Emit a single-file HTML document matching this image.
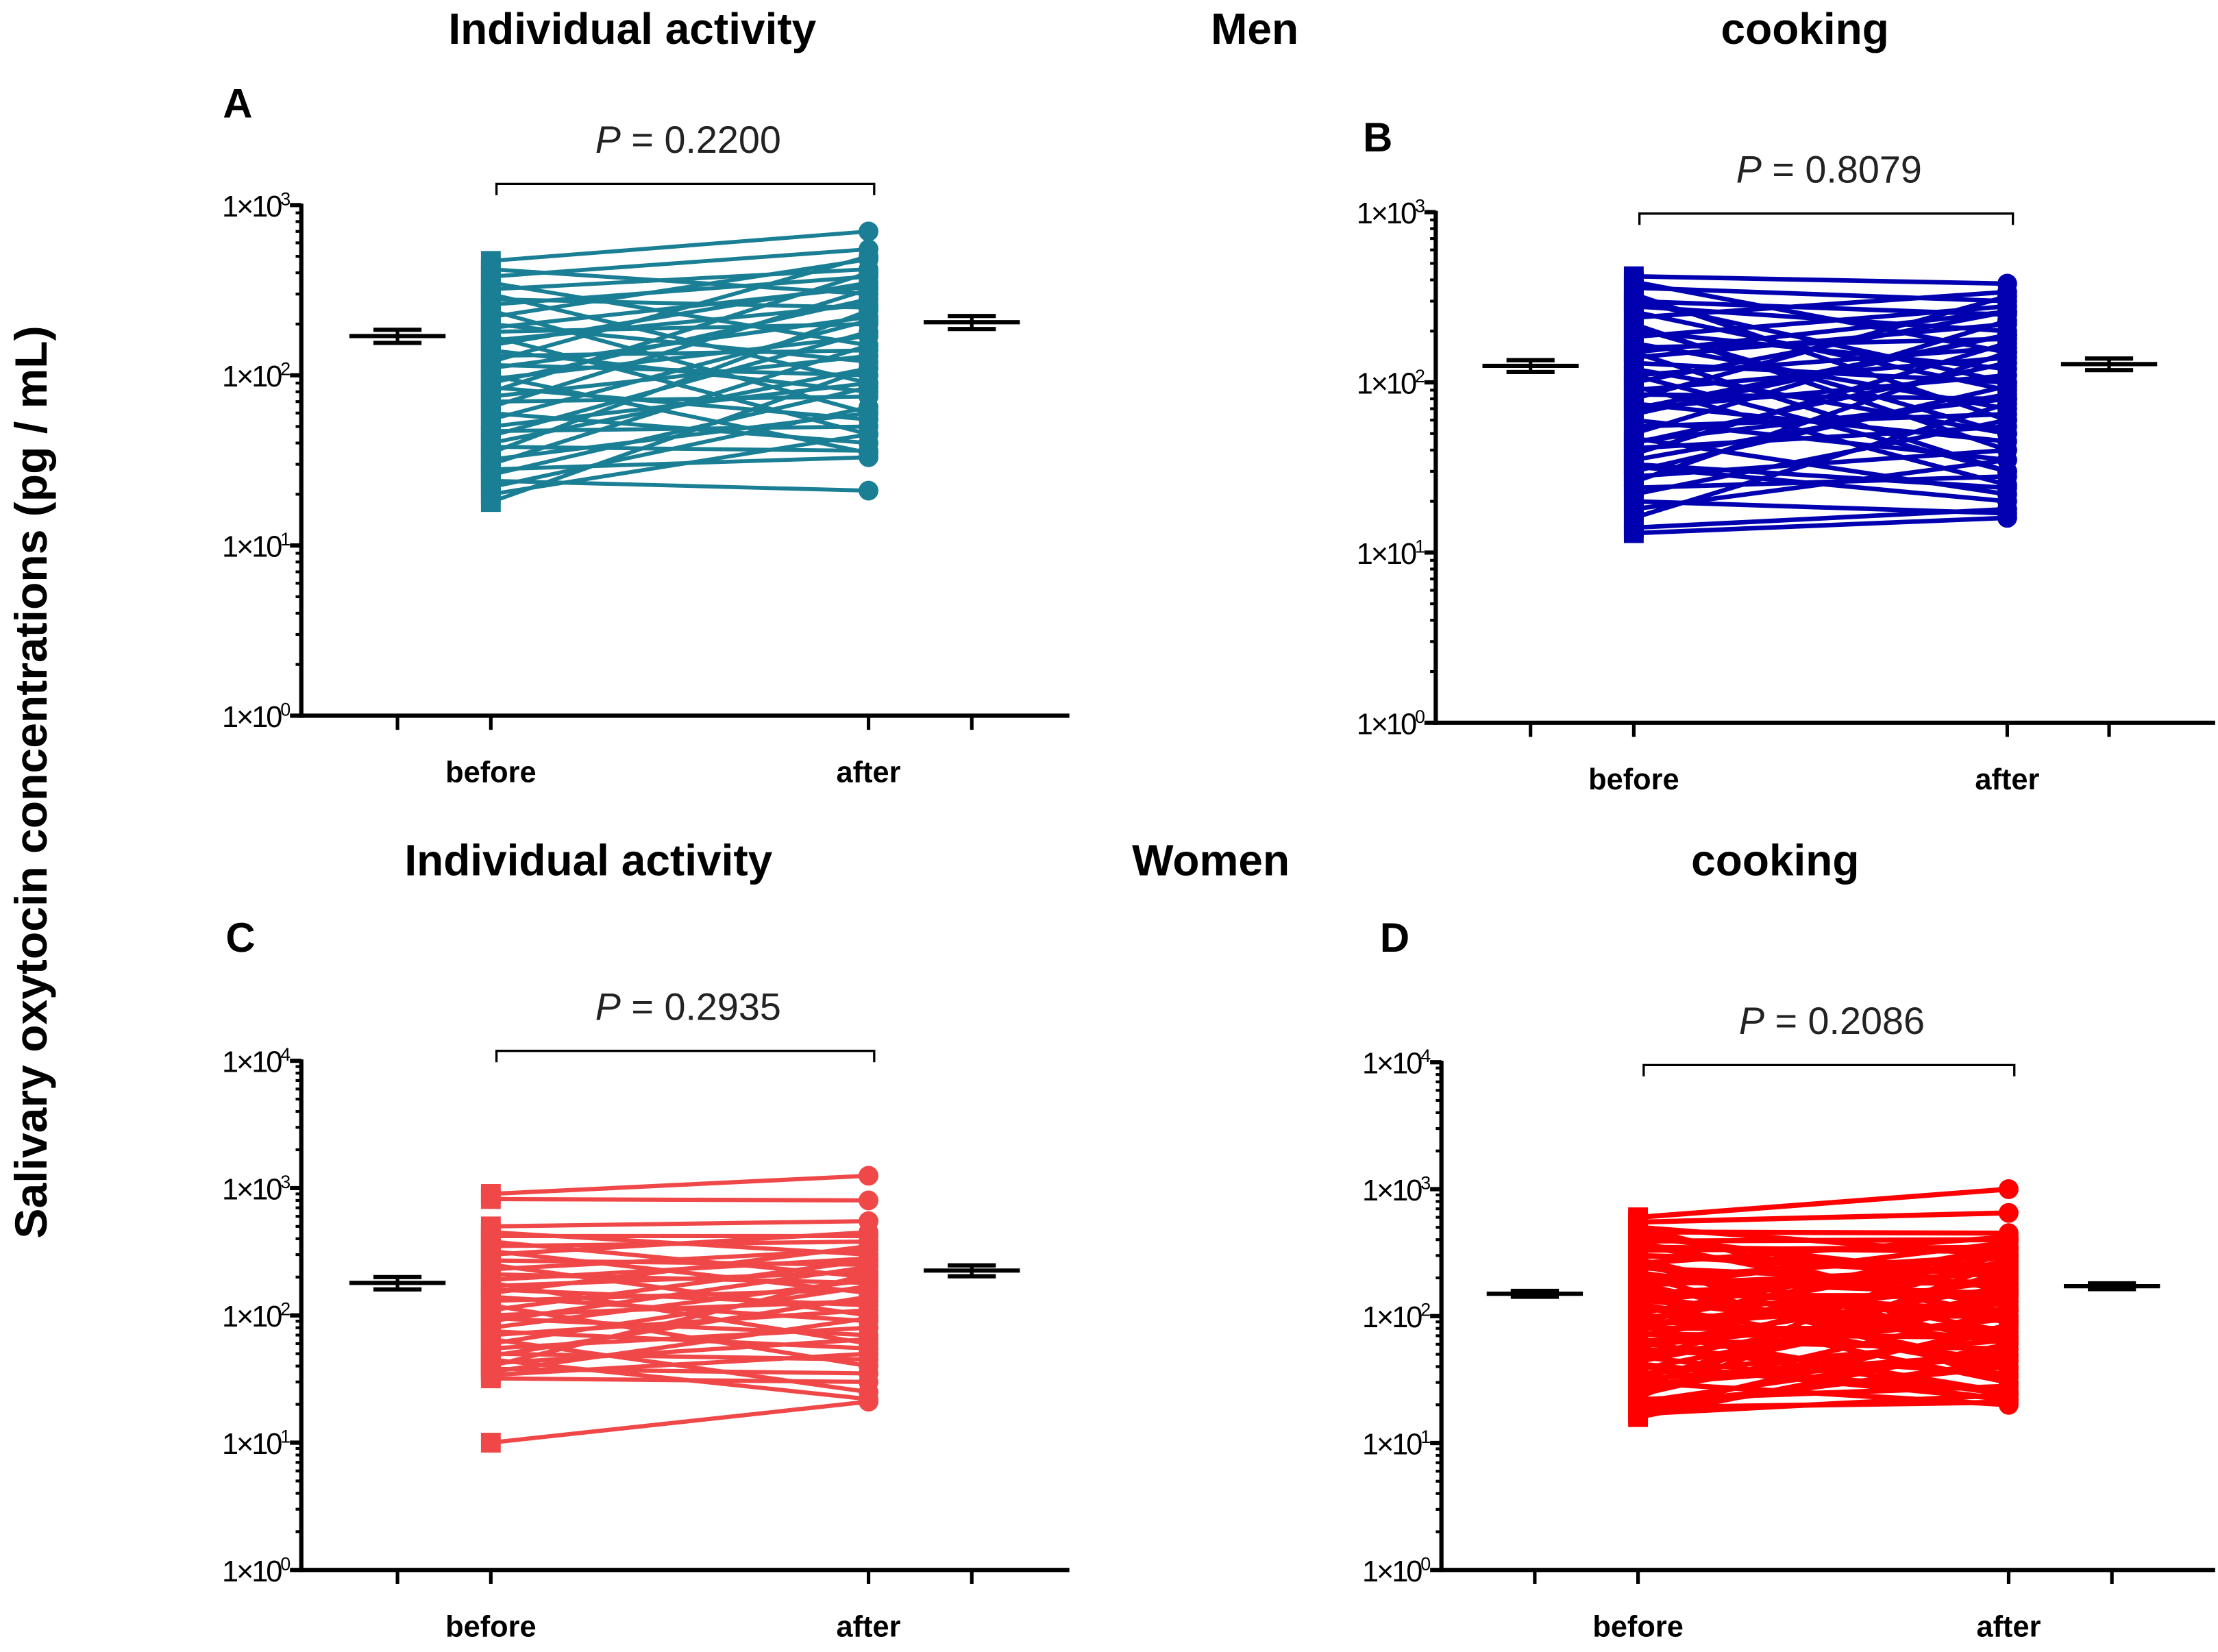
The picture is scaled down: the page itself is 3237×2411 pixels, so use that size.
<!DOCTYPE html>
<html><head><meta charset="utf-8"><title>Salivary oxytocin</title>
<style>html,body{margin:0;padding:0;background:#fff}svg{display:block}text{font-family:"Liberation Sans",sans-serif}</style></head>
<body>
<svg id="fig" xmlns="http://www.w3.org/2000/svg" width="3237" height="2411" viewBox="0 0 1568 1168" preserveAspectRatio="none">
<text x="447" y="31" font-size="31" font-weight="bold" text-anchor="middle">Individual activity</text>
<text x="887" y="31" font-size="31" font-weight="bold" text-anchor="middle">Men</text>
<text x="1276" y="31" font-size="31" font-weight="bold" text-anchor="middle">cooking</text>
<text x="416" y="619" font-size="31" font-weight="bold" text-anchor="middle">Individual activity</text>
<text x="856" y="619" font-size="31" font-weight="bold" text-anchor="middle">Women</text>
<text x="1255" y="619" font-size="31" font-weight="bold" text-anchor="middle">cooking</text>
<text transform="translate(33,553) rotate(-90)" font-size="32" font-weight="bold" text-anchor="middle">Salivary oxytocin concentrations (pg / mL)</text>
</svg>
<script>
// ---- data ----
const categories = ["before", "after"];
const A_before = [470,420,380,350,320,300,280,260,240,220,200,190,180,170,160,150,140,130,120,115,110,100,95,90,85,80,75,70,65,60,55,50,47,44,40,38,35,32,30,28,26,24,22,20,18];
const A_after  = [700,300,550,150,420,90,250,380,60,480,120,330,200,45,260,350,80,140,500,100,220,35,170,280,55,400,130,75,320,40,210,90,50,180,110,36,240,60,150,33,85,21,65,45,110];
const B_before = [420,390,360,330,300,280,260,240,220,200,185,170,160,150,140,130,120,110,100,95,90,85,80,75,70,65,60,55,50,47,44,41,38,35,32,30,28,26,24,22,20,18,16,14,13,300,210,150,110,70,45,33];
const B_after  = [380,150,300,60,250,200,90,340,40,120,280,70,180,30,220,100,50,160,260,25,140,80,320,45,110,190,35,65,230,22,130,55,170,85,20,95,40,150,28,60,17,35,75,18,16,100,50,260,30,190,80,24];
const C_before = [900,820,500,450,420,380,350,320,300,270,250,230,210,190,180,170,160,150,140,130,120,110,100,95,90,80,75,70,65,60,55,50,48,45,42,40,38,36,34,32,10];
const C_after  = [1250,800,550,300,420,200,380,150,450,250,100,330,180,280,60,220,120,350,90,160,40,270,130,70,240,190,55,110,25,170,80,45,140,22,65,210,35,95,50,30,21];
const D_before = [600,550,500,460,420,390,360,330,300,280,260,240,220,200,190,180,170,160,150,140,130,120,110,100,95,90,85,80,75,70,65,60,55,50,46,42,38,35,32,30,28,26,24,22,20,19,18,17,16,450,350,250,175,125,85,58,40,27,21,500,300,210,145,105,72,48,33,23,18,380,270,190,135,92,62,44,29];
const D_after  = [1000,650,300,450,200,400,120,350,250,60,420,180,90,300,150,40,380,110,220,70,260,30,160,100,45,340,130,80,25,200,55,170,35,95,280,22,140,65,50,20,230,75,110,28,40,21,85,24,60,160,320,75,240,38,190,115,26,400,55,90,210,33,145,350,68,22,130,270,44,100,30,180,62,300,24,150,48];
const A_mean = [170,205]; const A_sem = [15,18];
const B_mean = [125,128]; const B_sem = [10,10];
const C_mean = [180,225]; const C_sem = [20,22];
const D_mean = [150,172]; const D_sem = [8,9];
const A_p = "0.2200"; const B_p = "0.8079"; const C_p = "0.2935"; const D_p = "0.2086";
const A_exps = [0,1,2,3]; const B_exps = [0,1,2,3]; const C_exps = [0,1,2,3,4]; const D_exps = [0,1,2,3,4];

const NS = "http://www.w3.org/2000/svg";
const svg = document.getElementById("fig");
function mk(tag, attrs, parent) {
  const e = document.createElementNS(NS, tag);
  for (const k in attrs) e.setAttribute(k, attrs[k]);
  (parent || svg).appendChild(e);
  return e;
}

function drawPanel(key, L, before, after, mean, sem, pval, exps, color, lw) {
  const g = mk("g", {});
  
  
  const maxE = exps[exps.length - 1];
  const y = v => L.y0 - (Math.log10(v) / maxE) * (L.y0 - L.yTop);
  const xMean = [L.xm0, L.xm1];
  const xCat = [L.xb, L.xa];
  const ya = mk("line", {x1: L.ax, y1: L.yTop - 1, x2: L.ax, y2: L.y0 + 1.5, stroke: "#000", "stroke-width": 3}, g);
  
  
  const xa = mk("line", {x1: L.ax - 1.5, y1: L.y0, x2: L.xEnd, y2: L.y0, stroke: "#000", "stroke-width": 3}, g);
  
  
  exps.forEach(e => {
    const yy = y(Math.pow(10, e));
    mk("line", {x1: L.ax - 8, y1: yy, x2: L.ax, y2: yy, stroke: "#000", "stroke-width": 3}, g);
    const t = mk("text", {x: L.ax - 9, y: yy + 8, "font-size": 21, "text-anchor": "end", "letter-spacing": "-1.5"}, g);
    
    
    t.textContent = "1\u00d710";
    const s = mk("tspan", {dy: -8, "font-size": 13}, t);
    s.textContent = String(e);
    if (e < maxE) {
      for (let m = 2; m <= 9; m++) {
        const ym = y(m * Math.pow(10, e));
        mk("line", {x1: L.ax - 4, y1: ym, x2: L.ax, y2: ym, stroke: "#000", "stroke-width": 2}, g);
      }
    }
  });
  [L.xm0, L.xb, L.xa, L.xm1].forEach(xx => mk("line", {x1: xx, y1: L.y0, x2: xx, y2: L.y0 + 10, stroke: "#000", "stroke-width": 2.5}, g));
  categories.forEach((c, i) => {
    const t = mk("text", {x: xCat[i], y: L.y0 + 47, "font-size": 21, "font-weight": "bold", "text-anchor": "middle"}, g);
    
    
    t.textContent = c;
  });
  const br = mk("path", {d: `M${L.xb + 4},${L.brY + 8} V${L.brY} H${L.xa + 4} V${L.brY + 8}`, fill: "none", stroke: "#000", "stroke-width": 1.6}, g);
  
  
  const pt = mk("text", {x: (L.xb + L.xa) / 2 + 6, y: L.brY - 22, "font-size": 27, "text-anchor": "middle", fill: "#222"}, g);
  
  
  const pi = mk("tspan", {"font-style": "italic"}, pt); pi.textContent = "P";
  const pr = mk("tspan", {}, pt); pr.textContent = " = " + pval;
  const lt = mk("text", {x: L.lx, y: L.ly, "font-size": 29, "font-weight": "bold", "text-anchor": "middle"}, g);
  
  
  lt.textContent = key.toUpperCase();
  const pg = mk("g", {}, g);
  
  
  for (let i = 0; i < before.length; i++) {
    const ln = mk("line", {x1: L.xb, y1: y(before[i]), x2: L.xa, y2: y(after[i]), stroke: color, "stroke-width": lw}, pg);
    
    
  }
  for (let i = 0; i < before.length; i++) {
    const r = mk("rect", {x: L.xb - 7, y: y(before[i]) - 7, width: 14, height: 14, fill: color}, pg);
    
    
    const c = mk("circle", {cx: L.xa, cy: y(after[i]), r: 7, fill: color}, pg);
    
    
  }
  for (let i = 0; i < 2; i++) {
    const mg = mk("g", {stroke: "#000"}, g);
    
    
    const xm = xMean[i];
    const yl = y(mean[i] - sem[i]), yh = y(mean[i] + sem[i]), ym = y(mean[i]);
    mk("line", {x1: xm, y1: yh, x2: xm, y2: yl, "stroke-width": 2.5}, mg);
    mk("line", {x1: xm - 17, y1: yh, x2: xm + 17, y2: yh, "stroke-width": 3}, mg);
    mk("line", {x1: xm - 17, y1: yl, x2: xm + 17, y2: yl, "stroke-width": 3}, mg);
    mk("line", {x1: xm - 34, y1: ym, x2: xm + 34, y2: ym, "stroke-width": 3}, mg);
  }
}

drawPanel("a", {ax: 213, yTop: 145, y0: 506, xEnd: 756, xm0: 281, xb: 347, xa: 614, xm1: 687, brY: 130, lx: 168, ly: 83},
  A_before, A_after, A_mean, A_sem, A_p, A_exps, "#1a7f95", 2.8);
drawPanel("b", {ax: 1015, yTop: 150, y0: 511, xEnd: 1566, xm0: 1082, xb: 1155, xa: 1419, xm1: 1491, brY: 151, lx: 974, ly: 107},
  B_before, B_after, B_mean, B_sem, B_p, B_exps, "#0000b0", 3.2);
drawPanel("c", {ax: 213, yTop: 750, y0: 1110, xEnd: 756, xm0: 281, xb: 347, xa: 614, xm1: 687, brY: 743, lx: 170, ly: 673},
  C_before, C_after, C_mean, C_sem, C_p, C_exps, "#f04848", 3);
drawPanel("d", {ax: 1019, yTop: 751, y0: 1110, xEnd: 1566, xm0: 1085, xb: 1158, xa: 1420, xm1: 1493, brY: 753, lx: 986, ly: 673},
  D_before, D_after, D_mean, D_sem, D_p, D_exps, "#ff0000", 3.6);
</script>
</body></html>
